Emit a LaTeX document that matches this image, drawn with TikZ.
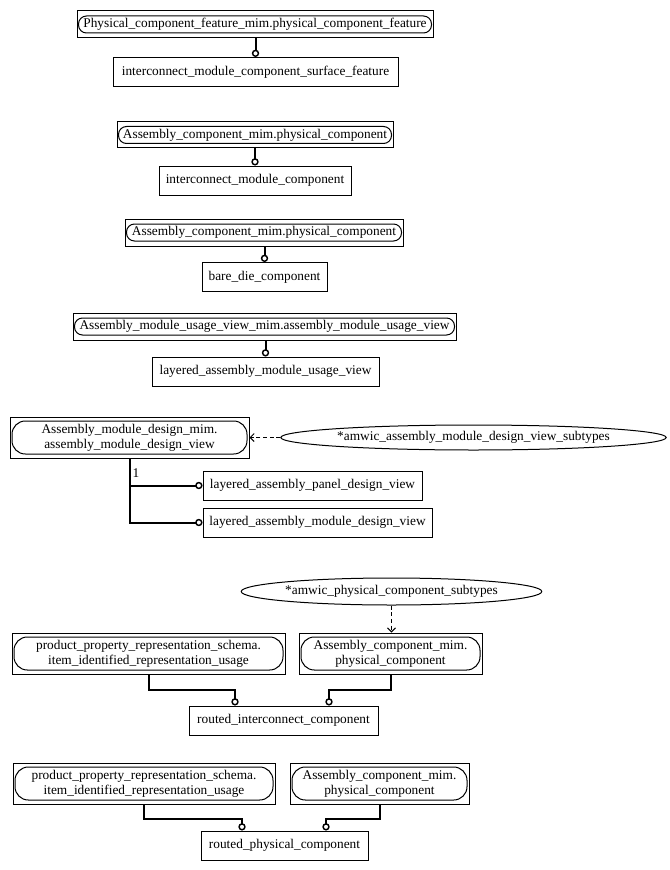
\documentclass[tikz,border=0pt]{standalone}
\usepackage{fontspec}
\setmainfont{Liberation Serif}
\usetikzlibrary{arrows.meta,shapes.geometric,calc}
\begin{document}
\begin{tikzpicture}[x=0.75pt,y=-0.75pt,
  wh/.style 2 args={minimum width=#1*0.75pt,minimum height=#2*0.75pt},
  box/.style={draw,line width=0.75pt,inner sep=0pt,font=\fontsize{10}{11.5}\selectfont,align=center},
  pill/.style={box,rounded corners=6pt},
  pilltwo/.style={box,rounded corners=10pt},
  oval/.style={box,ellipse},
  conn/.style={line width=1.5pt,-{Circle[open,length=5.5pt,line width=1.1pt]}},
  dep/.style={line width=0.75pt,dash pattern=on 3pt off 2pt,-{Straight Barb[length=3pt,width=6pt]}}
]
\useasboundingbox (0,0) rectangle (669,870);

% group 1
\node[box,wh={356}{27}] (b1) at (255,24.5) {};
\node[pill,wh={353}{17}] (b1i) at (255,24.5) {Physical\_component\_feature\_mim.physical\_component\_feature};
\node[box,wh={285}{29}] (b2) at (255.5,72) {interconnect\_module\_component\_surface\_feature};
\draw[conn] (b2.north |- b1.south) -- (b2.north);

% group 2
\node[box,wh={276}{26}] (b3) at (255,135) {};
\node[pill,wh={273}{17}] (b3i) at (255,135) {Assembly\_component\_mim.physical\_component};
\node[box,wh={192}{29}] (b4) at (255,180.5) {interconnect\_module\_component};
\draw[conn] (b4.north |- b3.south) -- (b4.north);

% group 3
\node[box,wh={278}{27}] (b5) at (264,232.5) {};
\node[pill,wh={275}{17}] (b5i) at (264,232.5) {Assembly\_component\_mim.physical\_component};
\node[box,wh={125}{29}] (b6) at (264.5,277) {bare\_die\_component};
\draw[conn] (b6.north |- b5.south) -- (b6.north);

% group 4
\node[box,wh={383}{27}] (b7) at (264.5,326.5) {};
\node[pill,wh={380}{17}] (b7i) at (264.5,326.5) {Assembly\_module\_usage\_view\_mim.assembly\_module\_usage\_view};
\node[box,wh={227}{29}] (b8) at (265.5,371.5) {layered\_assembly\_module\_usage\_view};
\draw[conn] (b8.north |- b7.south) -- (b8.north);

% group 5
\node[box,wh={239}{41}] (b9) at (129.5,437.5) {};
\node[pilltwo,wh={235}{33}] (b9i) at (129.5,437.5) {Assembly\_module\_design\_mim.\\assembly\_module\_design\_view};
\node[oval,wh={373}{25}] (e1) at (473.5,437.5) {*amwic\_assembly\_module\_design\_view\_subtypes};
\node[box,wh={219}{29}] (b10) at (312.5,485.5) {layered\_assembly\_panel\_design\_view};
\node[box,wh={229}{29}] (b11) at (317.5,522.5) {layered\_assembly\_module\_design\_view};
\draw[dep] (e1.west) -- (b9.east);
\draw[conn] (b9.south) |- (b10.west);
\draw[conn] (b9.south) |- (b11.west);
\node[box,draw=none] (lbl1) at (136,473) {1};

% group 6
\node[oval,wh={297}{27}] (e2) at (391.5,591.5) {*amwic\_physical\_component\_subtypes};
\node[box,wh={273}{41}] (b12) at (148.5,653.5) {};
\node[pilltwo,wh={269}{33}] (b12i) at (148.5,653.5) {product\_property\_representation\_schema.\\item\_identified\_representation\_usage};
\node[box,wh={183}{41}] (b13) at (390.5,653.5) {};
\node[pilltwo,wh={179}{33}] (b13i) at (390.5,653.5) {Assembly\_component\_mim.\\physical\_component};
\node[box,wh={189}{29}] (b14) at (283.5,720.5) {routed\_interconnect\_component};
\draw[dep] (e2.south) -- (e2.south |- b13.north);
\draw[conn] (b12.south) -- ++(0,15) -| ($(b14.north)+(-48.5,0)$);
\draw[conn] (b13.south) -- ++(0,15) -| ($(b14.north)+(45.5,0)$);

% group 7
\node[box,wh={262}{41}] (b15) at (144,783.5) {};
\node[pilltwo,wh={258}{33}] (b15i) at (144,783.5) {product\_property\_representation\_schema.\\item\_identified\_representation\_usage};
\node[box,wh={179}{41}] (b16) at (379.5,783.5) {};
\node[pilltwo,wh={175}{33}] (b16i) at (379.5,783.5) {Assembly\_component\_mim.\\physical\_component};
\node[box,wh={167}{29}] (b17) at (284.5,845.5) {routed\_physical\_component};
\draw[conn] (b15.south) -- ++(0,14) -| ($(b17.north)+(-42.5,0)$);
\draw[conn] (b16.south) -- ++(0,14) -| ($(b17.north)+(41.5,0)$);
\end{tikzpicture}
\end{document}
